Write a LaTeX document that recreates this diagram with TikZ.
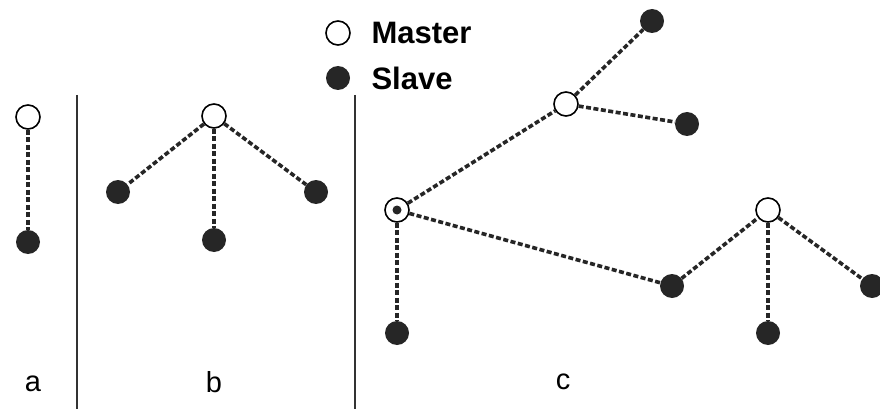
\documentclass[tikz,border=0pt]{standalone}
\usepackage{fontspec}
\setmainfont{Liberation Sans}
\usetikzlibrary{positioning}

\tikzset{
    master/.style={circle, draw, line width=1.6pt, fill=white, minimum size=24pt, inner sep=0pt},
    slave/.style={circle, fill=black!85, minimum size=24pt, inner sep=0pt},
    bridge/.style={master, path picture={\fill[black!85] (path picture bounding box.center) circle (4.5pt);}},
    link/.style={line width=3.6pt, dash pattern=on 5pt off 2.5pt, black!85},
    sep/.style={line width=1.8pt, black!80},
    lbl/.style={font=\fontsize{29}{31}\selectfont}
}

\begin{document}
\begin{tikzpicture}[x=1pt, y=-1pt]
    \useasboundingbox (0, 0) rectangle (880, 409);

    % legend
    \node (lm) at (338, 33) [master] {};
    \node (lmt) at (368, 33) [anchor=west, font=\bfseries\fontsize{31}{33}\selectfont] {Master};
    \node (ls) at (338, 78) [slave] {};
    \node (lst) at (368, 78) [anchor=west, font=\bfseries\fontsize{31}{33}\selectfont] {Slave};

    % separators
    \coordinate (s1t) at (77, 95);
    \coordinate (s1b) at (77, 409);
    \coordinate (s2t) at (355, 95);
    \coordinate (s2b) at (355, 409);
    \draw[sep] (s1t) -- (s1b);
    \draw[sep] (s2t) -- (s2b);

    % a
    \node (am) at (28, 117) [master] {};
    \node (as) at (28, 242) [slave] {};
    \draw[link] (am) -- (as);
    \node (la) at (33, 384) [lbl] {a};

    % b
    \node (bm) at (214, 116) [master] {};
    \node (bs1) at (118, 192) [slave] {};
    \node (bs2) at (214, 240) [slave] {};
    \node (bs3) at (316, 192) [slave] {};
    \draw[link] (bm) -- (bs1);
    \draw[link] (bm) -- (bs2);
    \draw[link] (bm) -- (bs3);
    \node (lb) at (214, 382) [lbl] {b};

    % c
    \node (cb) at (397, 210) [bridge] {};
    \node (cs0) at (397, 333) [slave] {};
    \node (cm1) at (566, 104) [master] {};
    \node (cs1) at (652, 21) [slave] {};
    \node (cs2) at (687, 124) [slave] {};
    \node (cs3) at (672, 286) [slave] {};
    \node (cm2) at (768, 210) [master] {};
    \node (cs4) at (768, 333) [slave] {};
    \node (cs5) at (872, 286) [slave] {};
    \draw[link] (cb) -- (cs0);
    \draw[link] (cb) -- (cm1);
    \draw[link] (cb) -- (cs3);
    \draw[link] (cm1) -- (cs1);
    \draw[link] (cm1) -- (cs2);
    \draw[link] (cs3) -- (cm2);
    \draw[link] (cm2) -- (cs4);
    \draw[link] (cm2) -- (cs5);
    \node (lc) at (563, 382) [lbl] {c};

\end{tikzpicture}
\end{document}
